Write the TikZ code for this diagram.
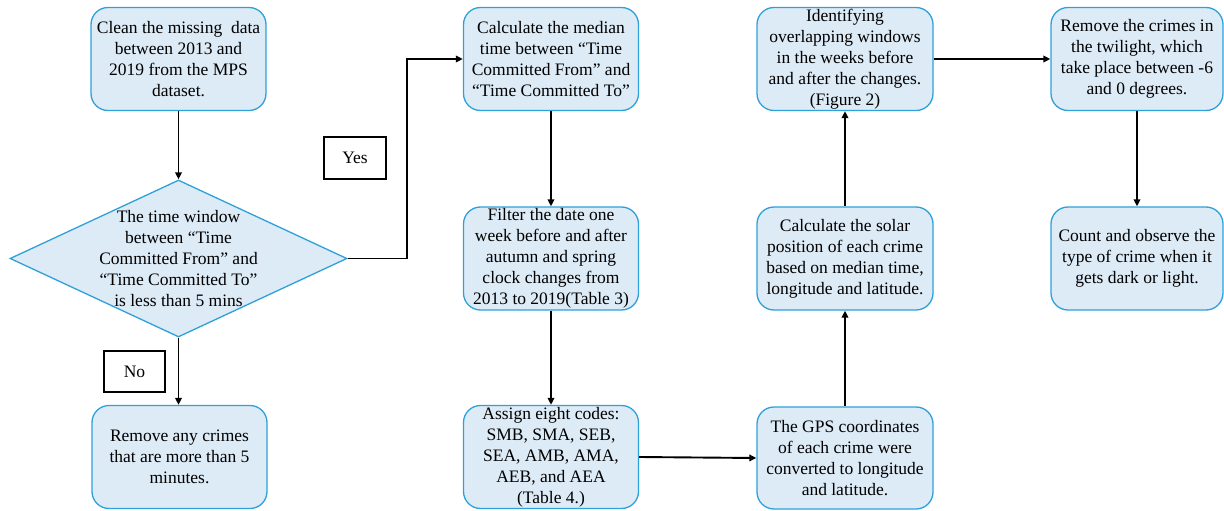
\documentclass[tikz,border=0pt]{standalone}
\usepackage{fontspec}
\setmainfont{Liberation Serif}
\usetikzlibrary{shapes.geometric,arrows.meta}
\definecolor{boxfill}{RGB}{221,235,247}
\definecolor{boxline}{RGB}{46,160,218}
\begin{document}
\begin{tikzpicture}[x=1pt,y=-1pt,
  proc/.style={draw=boxline, fill=boxfill, line width=1.3pt, rounded corners=17pt,
    minimum width=175pt, minimum height=103pt, inner sep=0pt, align=center,
    font=\fontsize{17.5}{21}\selectfont},
  dec/.style={draw=boxline, fill=boxfill, line width=1.3pt, shape=diamond,
    minimum width=337pt, minimum height=157pt, inner sep=0pt},
  txt/.style={align=center, inner sep=0pt, font=\fontsize{17.5}{21}\selectfont},
  tag/.style={draw=black, fill=white, line width=1.8pt, inner sep=0pt,
    font=\fontsize{17.5}{21}\selectfont},
  arr/.style={draw=black, line width=1.9pt, -{Triangle[length=7pt,width=6.5pt]}}
]
\useasboundingbox (0,0) rectangle (1224,511);

\node[proc] (clean) at (178.5,59) {Clean the missing\ \ data\\between 2013 and\\2019 from the MPS\\dataset.};
\node[dec] (diam) at (178.5,258.5) {};
\node[txt] (diamtxt) at (178.5,259) {The time window\\between “Time\\Committed From” and\\“Time Committed To”\\is less than 5 mins};
\node[proc] (remove) at (179.5,457) {Remove any crimes\\that are more than 5\\minutes.};

\node[tag, minimum width=62pt, minimum height=42pt] (yes) at (355,158) {Yes};
\node[tag, minimum width=61pt, minimum height=41pt] (no) at (134.5,371.5) {No};

\node[proc] (median) at (551,59) {Calculate the median\\time between “Time\\Committed From” and\\“Time Committed To”};
\node[proc] (filter) at (551,258.5) {Filter the date one\\week before and after\\autumn and spring\\clock changes from\\2013 to 2019(Table 3)};
\node[proc] (assign) at (551,457) {Assign eight codes:\\SMB, SMA, SEB,\\SEA, AMB, AMA,\\AEB, and AEA\\(Table 4.)};

\node[proc, minimum width=176pt] (ident) at (845,59) {Identifying\\overlapping windows\\in the weeks before\\and after the changes.\\(Figure 2)};
\node[proc, minimum width=176pt] (solar) at (845,258.5) {Calculate the solar\\position of each crime\\based on median time,\\longitude and latitude.};
\node[proc, minimum width=176pt, minimum height=102pt] (gps) at (845,458) {The GPS coordinates\\of each crime were\\converted to longitude\\and latitude.};

\node[proc, minimum width=172pt] (twilight) at (1137,59) {Remove the crimes in\\the twilight, which\\take place between -6\\and 0 degrees.};
\node[proc, minimum width=172pt] (count) at (1137,258.5) {Count and observe the\\type of crime when it\\gets dark or light.};

\draw[arr] (clean.south) -- (diam.north);
\draw[arr] (diam.south) -- (diam.south |- remove.north);
\draw[arr] (diam.east) -- ++(59,0) |- (median.west);
\draw[arr] (median.south) -- (filter.north);
\draw[arr] (filter.south) -- (assign.north);
\draw[arr] (assign.east) -- (gps.west);
\draw[arr] (gps.north) -- (solar.south);
\draw[arr] (solar.north) -- (ident.south);
\draw[arr] (ident.east) -- (twilight.west);
\draw[arr] (twilight.south) -- (count.north);
\end{tikzpicture}
\end{document}
